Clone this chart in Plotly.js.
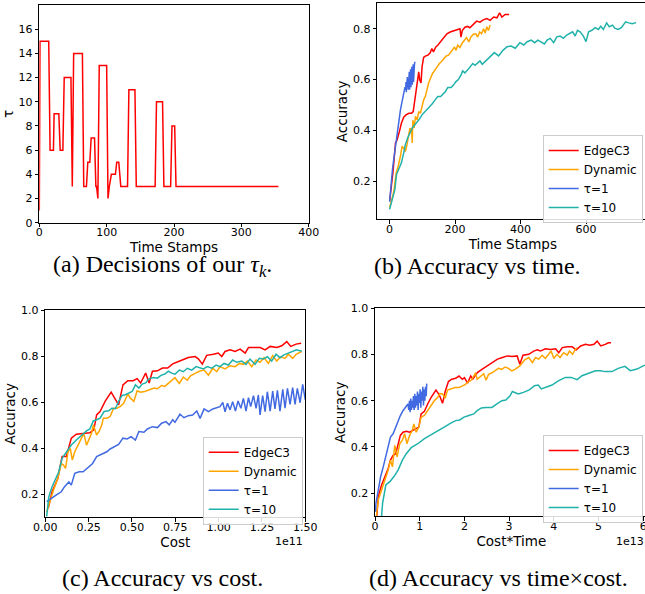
<!DOCTYPE html>
<html>
<head>
<meta charset="utf-8">
<script src="https://cdn.plot.ly/plotly-3.0.1.min.js"></script>
<style>
html,body{margin:0;padding:0;overflow:hidden;background:#fff;}
#chart{width:650px;height:594px;}
</style>
</head>
<body>
<div id="chart"></div>
<script>
// ---------- (a) decisions of tau ----------
const aT   = [0,1,14,16,21,22,29,31,35,37,47,49,51,64,66,70,72,75,77,82,84,85,87,89,100,102,104,107,113,115,118,121,131,133,142,144,172,174,183,185,195,197,201,203,355];
const aTau = [1,15,15,6,6,9,9,6,6,12,12,3,14,14,3,3,5,5,7,7,3,3,2,13,13,2,3,4,4,5,5,3,3,11,11,3,3,10,10,3,3,8,8,3,3];

// ---------- series names ----------
const names = ["EdgeC3","Dynamic","τ=1","τ=10"];
const colors = ["#ff0000","#ffa500","#4169e1","#20b2aa"];

// ---------- (b) accuracy vs time stamps ----------
const bRedX = [0,10,18,23,30,36,43,50,59,67,72,77,81,85,89,92,96,99,104,109,117,124,129,134,141,147,155,165,175,185,195,205,215,218,222,230,238,245,256,266,276,286,297,307,318,328,336,343,353,365];
const bRedY = [0.12,0.233,0.35,0.363,0.396,0.428,0.452,0.461,0.467,0.467,0.474,0.52,0.546,0.598,0.63,0.598,0.587,0.65,0.687,0.692,0.696,0.705,0.722,0.709,0.728,0.735,0.748,0.765,0.78,0.787,0.791,0.796,0.8,0.767,0.793,0.806,0.809,0.804,0.817,0.83,0.826,0.835,0.84,0.833,0.846,0.843,0.862,0.846,0.856,0.856];
const bOrangeX = [0,6,13,20,26,33,38,43,48,52,56,59,62,65,67,69,71,75,79,84,89,94,99,104,109,114,119,126,131,137,144,152,158,165,172,180,188,193,198,203,208,215,222,228,235,242,248,256,263,269,275,281,287,292,297,302,307];
const bOrangeY = [0.096,0.128,0.16,0.233,0.258,0.298,0.337,0.33,0.317,0.337,0.363,0.389,0.409,0.389,0.41,0.35,0.44,0.41,0.455,0.441,0.474,0.467,0.5,0.52,0.533,0.559,0.585,0.608,0.624,0.634,0.65,0.663,0.67,0.679,0.692,0.696,0.713,0.718,0.728,0.715,0.735,0.726,0.744,0.754,0.765,0.748,0.767,0.778,0.78,0.767,0.787,0.78,0.8,0.783,0.808,0.793,0.815];
const bBlueX = [0,3,6,9,12,15,18,21,24,27,30,33,36,39,42,45,47,49,50,51,52,53,54,55,56,57,58,59,60,61,62,63,64,65,66,67,68,69,70,71,72,73,74,75,76,77];
const bBlueY = [0.12,0.17,0.21,0.25,0.28,0.31,0.35,0.38,0.41,0.43,0.46,0.48,0.5,0.52,0.54,0.55,0.57,0.56,0.59,0.55,0.6,0.56,0.61,0.57,0.6,0.56,0.62,0.57,0.63,0.56,0.62,0.58,0.64,0.57,0.63,0.59,0.65,0.58,0.64,0.6,0.66,0.59,0.65,0.6,0.66,0.67];
const bTealX = [0,8,16,21,28,36,43,48,55,62,69,77,84,91,99,109,117,124,131,139,147,156,163,170,178,188,195,202,210,218,223,230,238,245,254,261,269,276,283,292,307,320,333,347,359,371,384,398,410,420,433,443,453,463,473,481,491,501,511,521,531,541,551,559,567,574,582,592,600,608,618,628,638,645,653,663,671,681,688,698,708,721,731,741,753];
const bTealY = [0.089,0.128,0.167,0.226,0.246,0.272,0.311,0.343,0.37,0.392,0.409,0.422,0.431,0.444,0.461,0.474,0.487,0.496,0.506,0.52,0.533,0.533,0.543,0.552,0.569,0.569,0.578,0.591,0.6,0.617,0.634,0.626,0.637,0.65,0.663,0.656,0.666,0.673,0.66,0.671,0.69,0.706,0.693,0.716,0.729,0.732,0.723,0.745,0.736,0.749,0.755,0.745,0.755,0.749,0.74,0.755,0.762,0.745,0.768,0.771,0.762,0.775,0.781,0.788,0.771,0.794,0.788,0.771,0.749,0.788,0.794,0.804,0.797,0.81,0.797,0.823,0.808,0.814,0.802,0.797,0.804,0.827,0.823,0.82,0.824];

// ---------- (c) accuracy vs cost (x in units of 1e11) ----------
const cRedX = [0.017,0.039,0.072,0.097,0.121,0.15,0.179,0.218,0.257,0.28,0.296,0.316,0.345,0.38,0.40,0.423,0.448,0.476,0.507,0.53,0.55,0.579,0.599,0.618,0.647,0.676,0.706,0.735,0.758,0.796,0.825,0.864,0.883,0.906,0.931,0.97,0.998,1.018,1.037,1.066,1.095,1.124,1.153,1.172,1.21,1.24,1.268,1.297,1.336,1.364,1.393,1.416,1.447,1.476];
const cRedY = [0.139,0.211,0.269,0.364,0.364,0.444,0.461,0.465,0.468,0.48,0.545,0.56,0.604,0.644,0.618,0.589,0.676,0.694,0.694,0.703,0.684,0.727,0.684,0.735,0.737,0.749,0.749,0.767,0.774,0.784,0.795,0.799,0.789,0.766,0.804,0.809,0.814,0.799,0.821,0.828,0.821,0.831,0.814,0.838,0.838,0.838,0.828,0.843,0.838,0.846,0.864,0.843,0.853,0.857];
const cOrangeX = [0.008,0.027,0.047,0.072,0.092,0.105,0.117,0.131,0.144,0.156,0.17,0.189,0.209,0.222,0.238,0.253,0.267,0.277,0.287,0.296,0.312,0.326,0.335,0.355,0.374,0.394,0.413,0.433,0.452,0.476,0.491,0.511,0.53,0.55,0.573,0.598,0.628,0.647,0.671,0.69,0.72,0.748,0.773,0.796,0.819,0.838,0.864,0.893,0.916,0.941,0.966,0.989,1.008,1.037,1.066,1.095,1.12,1.143,1.166,1.191,1.216,1.239,1.262,1.287,1.312,1.335,1.358,1.383,1.402,1.427,1.447,1.47,1.479];
const cOrangeY = [0.123,0.174,0.218,0.269,0.334,0.327,0.313,0.385,0.4,0.349,0.385,0.414,0.444,0.465,0.414,0.444,0.465,0.502,0.48,0.458,0.476,0.502,0.531,0.531,0.538,0.574,0.574,0.582,0.596,0.636,0.618,0.604,0.65,0.644,0.647,0.655,0.662,0.659,0.673,0.669,0.69,0.707,0.682,0.71,0.696,0.715,0.726,0.736,0.74,0.718,0.748,0.733,0.755,0.745,0.759,0.755,0.769,0.765,0.779,0.755,0.784,0.774,0.794,0.769,0.803,0.779,0.798,0.791,0.809,0.791,0.809,0.818,0.821];
const cBlueX = [0.008,0.033,0.062,0.092,0.111,0.136,0.15,0.17,0.195,0.218,0.248,0.273,0.296,0.326,0.355,0.374,0.398,0.423,0.448,0.472,0.495,0.52,0.54,0.569,0.589,0.618,0.647,0.671,0.696,0.715,0.735,0.748,0.777,0.8,0.825,0.85,0.874,0.893,0.916,0.941,0.966,0.989,1.008,1.024,1.037,1.051,1.066,1.081,1.097,1.112,1.128,1.143,1.158,1.172,1.185,1.201,1.216,1.229,1.239,1.254,1.268,1.281,1.297,1.312,1.325,1.339,1.354,1.37,1.383,1.397,1.412,1.427,1.441,1.454,1.47,1.485,1.5,1.52];
const cBlueY = [0.168,0.182,0.196,0.211,0.233,0.254,0.24,0.291,0.298,0.298,0.32,0.334,0.364,0.374,0.385,0.397,0.407,0.417,0.444,0.441,0.451,0.436,0.473,0.47,0.484,0.494,0.49,0.509,0.516,0.502,0.524,0.513,0.548,0.533,0.542,0.545,0.562,0.53,0.571,0.559,0.571,0.577,0.581,0.6,0.559,0.596,0.567,0.603,0.562,0.606,0.574,0.617,0.562,0.62,0.581,0.629,0.574,0.632,0.545,0.629,0.559,0.646,0.562,0.649,0.571,0.652,0.562,0.656,0.574,0.661,0.591,0.664,0.591,0.661,0.598,0.678,0.61,0.67];
const cTealX = [0.008,0.02,0.039,0.058,0.078,0.097,0.121,0.15,0.179,0.209,0.238,0.257,0.277,0.296,0.316,0.339,0.365,0.384,0.404,0.423,0.443,0.462,0.481,0.501,0.52,0.54,0.559,0.579,0.598,0.624,0.647,0.667,0.69,0.71,0.729,0.748,0.773,0.796,0.819,0.845,0.87,0.893,0.912,0.935,0.96,0.985,1.008,1.031,1.056,1.081,1.104,1.133,1.158,1.181,1.21,1.235,1.258,1.281,1.306,1.331,1.354,1.377,1.402,1.427,1.45,1.473,1.48];
const cTealY = [0.104,0.189,0.233,0.262,0.298,0.356,0.385,0.414,0.436,0.458,0.476,0.484,0.519,0.524,0.531,0.56,0.563,0.574,0.572,0.604,0.63,0.633,0.64,0.647,0.676,0.662,0.679,0.684,0.702,0.708,0.705,0.717,0.723,0.735,0.727,0.722,0.74,0.733,0.748,0.74,0.755,0.748,0.745,0.755,0.748,0.762,0.755,0.769,0.762,0.784,0.774,0.779,0.765,0.788,0.765,0.791,0.788,0.798,0.779,0.809,0.794,0.806,0.813,0.823,0.828,0.823,0.823];

// ---------- (d) accuracy vs cost*time (x in units of 1e13) ----------
const dRedX = [0.04,0.074,0.147,0.221,0.295,0.346,0.405,0.464,0.516,0.567,0.626,0.7,0.774,0.847,0.921,0.98,1.032,1.105,1.179,1.253,1.363,1.437,1.511,1.57,1.643,1.717,1.805,1.879,1.953,2.0,2.07,2.14,2.19,2.29,2.4,2.51,2.62,2.74,2.85,2.96,3.07,3.18,3.24,3.31,3.44,3.55,3.63,3.7,3.81,3.93,4.04,4.11,4.19,4.3,4.41,4.5,4.6,4.71,4.8,4.9,4.97,5.05,5.15,5.22,5.28];
const dRedY = [0.1,0.186,0.236,0.271,0.307,0.343,0.364,0.371,0.414,0.45,0.464,0.468,0.464,0.471,0.479,0.486,0.543,0.554,0.586,0.614,0.646,0.626,0.589,0.64,0.683,0.693,0.697,0.707,0.693,0.7,0.676,0.707,0.694,0.722,0.737,0.751,0.766,0.78,0.787,0.794,0.791,0.794,0.758,0.797,0.801,0.815,0.82,0.815,0.825,0.822,0.825,0.808,0.83,0.834,0.834,0.82,0.837,0.844,0.84,0.844,0.858,0.837,0.844,0.851,0.851];
const dOrangeX = [0.03,0.074,0.147,0.221,0.295,0.346,0.39,0.442,0.494,0.553,0.612,0.663,0.715,0.774,0.833,0.87,0.921,0.98,1.032,1.105,1.179,1.253,1.326,1.4,1.452,1.511,1.57,1.621,1.695,1.791,1.879,1.953,2.026,2.085,2.137,2.189,2.248,2.285,2.358,2.432,2.483,2.542,2.616,2.69,2.763,2.837,2.911,2.985,3.058,3.132,3.24,3.35,3.44,3.52,3.59,3.66,3.74,3.81,3.89,3.94,4.0,4.07,4.14,4.22,4.3,4.35,4.42,4.48,4.52];
const dOrangeY = [0.1,0.171,0.214,0.257,0.3,0.343,0.314,0.407,0.357,0.414,0.429,0.457,0.414,0.45,0.471,0.5,0.464,0.486,0.529,0.536,0.557,0.583,0.6,0.614,0.631,0.629,0.611,0.646,0.65,0.657,0.657,0.664,0.671,0.683,0.686,0.7,0.721,0.693,0.707,0.717,0.689,0.714,0.721,0.729,0.74,0.736,0.746,0.74,0.729,0.736,0.751,0.777,0.787,0.765,0.787,0.78,0.797,0.783,0.801,0.815,0.783,0.801,0.787,0.808,0.797,0.815,0.801,0.822,0.829];
const dBlueX = [0.01,0.022,0.074,0.125,0.184,0.243,0.295,0.346,0.405,0.464,0.516,0.567,0.626,0.685,0.737,0.755,0.77,0.785,0.8,0.815,0.83,0.845,0.86,0.875,0.89,0.905,0.92,0.935,0.95,0.965,0.98,0.995,1.01,1.025,1.04,1.055,1.07,1.085,1.1,1.115,1.13,1.145,1.157];
const dBlueY = [0.12,0.157,0.214,0.271,0.314,0.364,0.4,0.443,0.457,0.486,0.514,0.536,0.557,0.571,0.586,0.56,0.6,0.55,0.61,0.56,0.6,0.57,0.62,0.56,0.63,0.57,0.62,0.58,0.64,0.56,0.63,0.59,0.65,0.57,0.64,0.6,0.66,0.58,0.65,0.6,0.66,0.62,0.674];
const dTealX = [0.147,0.17,0.243,0.332,0.42,0.516,0.612,0.7,0.81,0.958,1.105,1.253,1.4,1.548,1.695,1.805,1.894,1.99,2.1,2.21,2.285,2.38,2.483,2.616,2.727,2.837,2.926,3.021,3.073,3.132,3.205,3.32,3.45,3.57,3.65,3.72,3.81,3.96,4.11,4.26,4.39,4.52,4.63,4.78,4.93,5.04,5.15,5.3,5.44,5.59,5.71,5.86,6.0,6.15];
const dTealY = [0.1,0.157,0.236,0.25,0.271,0.3,0.343,0.371,0.397,0.414,0.436,0.454,0.471,0.486,0.503,0.514,0.517,0.529,0.536,0.543,0.557,0.569,0.571,0.571,0.586,0.6,0.603,0.621,0.64,0.636,0.629,0.636,0.647,0.665,0.668,0.651,0.658,0.668,0.687,0.701,0.701,0.691,0.708,0.72,0.73,0.73,0.726,0.726,0.74,0.749,0.73,0.737,0.751,0.76];

const captions = ["(a) Decisions of our <i>τ<sub>k</sub></i>.", "(b) Accuracy vs time.", "(c) Accuracy vs cost.", "(d) Accuracy vs time×cost."];

// ---------- layout helpers (pixel geometry) ----------
const W = 650, H = 594;
const px = (a, b) => [a / W, b / W];
const py = (top, bottom) => [(H - bottom) / H, (H - top) / H];
const FONT = "DejaVu Sans, sans-serif";
const SERIF = "Liberation Serif, Times New Roman, serif";

function axisBase(extra) {
  return Object.assign({
    showline: true, linecolor: "#000", linewidth: 1, mirror: true,
    ticks: "outside", ticklen: 3.5, tickwidth: 1, tickcolor: "#000",
    showgrid: false, zeroline: false,
    tickfont: {family: FONT, size: 11, color: "#000"},
    fixedrange: true
  }, extra);
}
function ttl(text, standoff) {
  return {text: text, font: {family: FONT, size: 13.5, color: "#000"}, standoff: standoff};
}

const traces = [];
traces.push({x: aT, y: aTau, type: "scatter", mode: "lines", line: {color: "#ff0000", width: 1.5}, xaxis: "x", yaxis: "y", showlegend: false});

function addSet(xs, ys, xa, ya, leg) {
  for (let i = 0; i < 4; i++) {
    traces.push({x: xs[i], y: ys[i], type: "scatter", mode: "lines", name: names[i],
      line: {color: colors[i], width: 1.5}, xaxis: xa, yaxis: ya, legend: leg, showlegend: true});
  }
}
addSet([bRedX, bOrangeX, bBlueX, bTealX], [bRedY, bOrangeY, bBlueY, bTealY], "x2", "y2", "legend");
addSet([cRedX, cOrangeX, cBlueX, cTealX], [cRedY, cOrangeY, cBlueY, cTealY], "x3", "y3", "legend2");
addSet([dRedX, dOrangeX, dBlueX, dTealX], [dRedY, dOrangeY, dBlueY, dTealY], "x4", "y4", "legend3");

const legStyle = {bgcolor: "rgba(255,255,255,0.85)", bordercolor: "#cccccc", borderwidth: 1,
  font: {family: FONT, size: 12, color: "#000"}, xanchor: "left", yanchor: "top", xref: "paper", yref: "paper"};

const XS = -4; // tick labels closer to the x axis, as in the reference
const layout = {
  width: W, height: H,
  margin: {l: 0, r: 0, t: 0, b: 0},
  paper_bgcolor: "#fff", plot_bgcolor: "#fff",
  // (a)
  xaxis: axisBase({domain: px(39.3, 308.7), range: [0, 400], tickvals: [0,100,200,300,400], ticklabelstandoff: XS, anchor: "y", title: ttl("Time Stamps", 1)}),
  yaxis: axisBase({domain: py(5, 222.7), range: [0, 18], tickvals: [0,2,4,6,8,10,12,14,16], anchor: "x", title: ttl("τ", 1)}),
  // (b)
  xaxis2: axisBase({domain: px(377.3, 648.4), range: [-37.65, 790.65], tickvals: [0,200,400,600], ticklabelstandoff: XS, anchor: "y2", title: ttl("Time Stamps", 1)}),
  yaxis2: axisBase({domain: py(3.3, 219.3), range: [0.05, 0.9], tickvals: [0.2,0.4,0.6,0.8], tickformat: ".1f", anchor: "x2", title: ttl("Accuracy", 2)}),
  // (c)
  xaxis3: axisBase({domain: px(45.3, 305.3), range: [0, 1.5], tickvals: [0,0.25,0.5,0.75,1,1.25,1.5], tickformat: ".2f", ticklabelstandoff: XS, anchor: "y3", title: ttl("Cost", 3)}),
  yaxis3: axisBase({domain: py(310.3, 517.3), range: [0.1, 1.0], tickvals: [0.2,0.4,0.6,0.8,1.0], tickformat: ".1f", anchor: "x3", title: ttl("Accuracy", 2)}),
  // (d)
  xaxis4: axisBase({domain: px(375, 647.7), range: [0, 6.1], tickvals: [0,1,2,3,4,5,6], ticklabelstandoff: XS, anchor: "y4", title: ttl("Cost*Time", 3)}),
  yaxis4: axisBase({domain: py(308.3, 516.3), range: [0.1, 1.0], tickvals: [0.2,0.4,0.6,0.8,1.0], tickformat: ".1f", anchor: "x4", title: ttl("Accuracy", 2)}),
  legend: Object.assign({}, legStyle, {x: 542.7 / W, y: (H - 135) / H}),
  legend2: Object.assign({}, legStyle, {x: 202.7 / W, y: (H - 436.7) / H}),
  legend3: Object.assign({}, legStyle, {x: 542.7 / W, y: (H - 435) / H}),
  annotations: [
    {text: "1e11", xref: "paper", yref: "paper", x: 305 / W, y: (H - 541) / H, xanchor: "right", yanchor: "middle", showarrow: false, font: {family: FONT, size: 11, color: "#000"}},
    {text: "1e13", xref: "paper", yref: "paper", x: 646 / W, y: (H - 541) / H, xanchor: "right", yanchor: "middle", showarrow: false, font: {family: FONT, size: 11, color: "#000"}},
    {text: captions[0], xref: "paper", yref: "paper", x: 162 / W, y: (H - 266) / H, xanchor: "center", yanchor: "middle", showarrow: false, font: {family: SERIF, size: 24, color: "#000"}},
    {text: captions[1], xref: "paper", yref: "paper", x: 477 / W, y: (H - 266) / H, xanchor: "center", yanchor: "middle", showarrow: false, font: {family: SERIF, size: 24, color: "#000"}},
    {text: captions[2], xref: "paper", yref: "paper", x: 163 / W, y: (H - 578) / H, xanchor: "center", yanchor: "middle", showarrow: false, font: {family: SERIF, size: 24, color: "#000"}},
    {text: captions[3], xref: "paper", yref: "paper", x: 498 / W, y: (H - 578) / H, xanchor: "center", yanchor: "middle", showarrow: false, font: {family: SERIF, size: 24, color: "#000"}}
  ],
  showlegend: true
};

Plotly.newPlot("chart", traces, layout, {staticPlot: true, displayModeBar: false});
</script>
</body>
</html>
